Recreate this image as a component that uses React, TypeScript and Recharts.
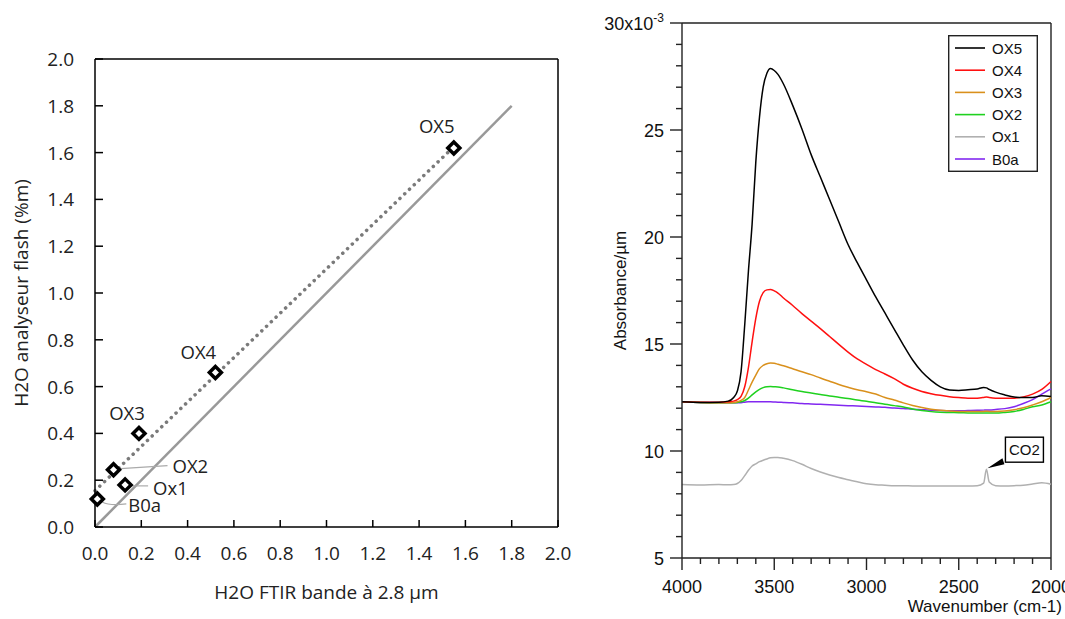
import React from "react";
import {
  ComposedChart,
  Line,
  Scatter,
  XAxis,
  YAxis,
  ReferenceLine,
  ReferenceDot,
  Label,
  Legend,
} from "recharts";

// ---- left panel: flash analyser vs FTIR water content ----
const samples = ["B0a", "Ox1", "OX2", "OX3", "OX4", "OX5"];
const ftirWater = [0.01, 0.13, 0.08, 0.19, 0.52, 1.55];
const flashWater = [0.12, 0.18, 0.245, 0.4, 0.66, 1.62];
const identityX = [0, 1.8];
const fitX = [0.0, 1.55];
const fitY = [0.155, 1.625];
const waterTicks = [0, 0.2, 0.4, 0.6, 0.8, 1.0, 1.2, 1.4, 1.6, 1.8, 2.0];

// ---- right panel: FTIR spectra (x10^-3 absorbance per µm) ----
const wavenumbers = [
  4000, 3900, 3800, 3750, 3720, 3700, 3680, 3660, 3640, 3620, 3600, 3580, 3560,
  3540, 3520, 3500, 3480, 3450, 3400, 3350, 3300, 3250, 3200, 3150, 3100, 3050,
  3000, 2950, 2900, 2850, 2800, 2750, 2700, 2650, 2600, 2550, 2500, 2450, 2400,
  2365, 2350, 2335, 2300, 2250, 2200, 2150, 2100, 2050, 2000,
];
const absOX5 = [
  12.3, 12.27, 12.28, 12.33, 12.5, 12.8, 13.7, 15.9, 18.4, 20.6, 23.5, 25.6, 27.0,
  27.65, 27.87, 27.78, 27.6, 27.15, 26.15, 25.05, 23.85, 22.8, 21.75, 20.7, 19.65, 18.8,
  18.0, 17.2, 16.45, 15.7, 14.95, 14.25, 13.7, 13.3, 13.0, 12.85, 12.83, 12.86, 12.9,
  12.97, 12.95, 12.88, 12.75, 12.62, 12.52, 12.5, 12.5, 12.58, 12.55,
];
const absOX4 = [
  12.3, 12.28, 12.28, 12.3, 12.33, 12.4, 12.55, 13.0, 13.9, 15.1, 16.2, 17.0, 17.4,
  17.53, 17.55, 17.48, 17.38, 17.15, 16.8, 16.42, 16.07, 15.72, 15.35, 14.98, 14.62, 14.3,
  14.05, 13.8, 13.6, 13.38, 13.12, 12.93, 12.78, 12.68, 12.6, 12.54, 12.5, 12.47, 12.47,
  12.5, 12.52, 12.5, 12.47, 12.46, 12.47, 12.53, 12.66, 12.88, 13.25,
];
const absOX3 = [
  12.3, 12.27, 12.26, 12.26, 12.27, 12.3, 12.37, 12.5, 12.85, 13.22, 13.55, 13.85, 14.0,
  14.08, 14.11, 14.1, 14.05, 13.98, 13.84, 13.7, 13.57, 13.41, 13.26, 13.11, 12.98, 12.86,
  12.77, 12.66, 12.5, 12.38, 12.25, 12.13, 12.03, 11.95, 11.9, 11.87, 11.85, 11.84, 11.84,
  11.85, 11.86, 11.85, 11.85, 11.87, 11.93, 12.02, 12.15, 12.3, 12.5,
];
const absOX2 = [
  12.3, 12.27, 12.26, 12.26, 12.26, 12.27, 12.3, 12.36, 12.47, 12.62, 12.76, 12.88, 12.96,
  13.0, 13.01, 13.0, 12.99, 12.95, 12.86, 12.78, 12.71, 12.64, 12.57, 12.51, 12.45, 12.38,
  12.32, 12.25, 12.18, 12.12, 12.06, 11.96, 11.89, 11.84, 11.81, 11.8, 11.79, 11.78, 11.77,
  11.77, 11.78, 11.77, 11.77, 11.8, 11.85, 11.94, 12.07, 12.15, 12.3,
];
const absOx1 = [
  8.43, 8.41, 8.43, 8.42, 8.43, 8.48, 8.62, 8.85, 9.1, 9.3, 9.4, 9.5, 9.57,
  9.63, 9.68, 9.7, 9.7, 9.66, 9.55, 9.38, 9.18, 9.02, 8.88, 8.76, 8.66, 8.56,
  8.47, 8.42, 8.4, 8.38, 8.38, 8.37, 8.37, 8.37, 8.37, 8.37, 8.37, 8.37, 8.38,
  8.5, 9.15, 8.55, 8.38, 8.37, 8.38, 8.4, 8.46, 8.52, 8.45,
];
const absB0a = [
  12.3, 12.27, 12.26, 12.25, 12.25, 12.25, 12.26, 12.28, 12.3, 12.3, 12.3, 12.3, 12.3,
  12.3, 12.3, 12.29, 12.28, 12.27, 12.25, 12.22, 12.2, 12.18, 12.16, 12.14, 12.12, 12.1,
  12.08, 12.06, 12.04, 12.01, 11.99, 11.95, 11.93, 11.91, 11.89, 11.88, 11.88, 11.89, 11.9,
  11.91, 11.92, 11.92, 11.94, 11.98, 12.07, 12.22, 12.4, 12.66, 12.9,
];
const wnTicks = [
  4000, 3900, 3800, 3700, 3600, 3500, 3400, 3300, 3200, 3100, 3000, 2900, 2800,
  2700, 2600, 2500, 2400, 2300, 2200, 2100, 2000,
];
const absTicks = [
  5, 6, 7, 8, 9, 10, 11, 12, 13, 14, 15, 16, 17, 18, 19, 20, 21, 22, 23, 24, 25,
  26, 27, 28, 29, 30,
];
const co2Peak = { wn: 2350, abs: 9.15 };

const leftFont = "'Open Sans', sans-serif";
const rightFont = "'Liberation Sans', Arial, sans-serif";

const spectraSeries = [
  { key: "OX5", color: "#000000" },
  { key: "OX4", color: "#ff1010" },
  { key: "OX3", color: "#d9901c" },
  { key: "OX2", color: "#1fd11f" },
  { key: "Ox1", color: "#b0b0b0" },
  { key: "B0a", color: "#8228f0" },
];

// label placement around each marker (pixels)
const pointLabels: Record<string, { dx: number; dy: number; anchor: string; leader?: string }> = {
  OX5: { dx: -17, dy: -21, anchor: "middle" },
  OX4: { dx: -17, dy: -20, anchor: "middle" },
  OX3: { dx: -12, dy: -20, anchor: "middle" },
  OX2: { dx: 59, dy: -3, anchor: "start", leader: "M7,-1 L54,-4" },
  Ox1: { dx: 28, dy: 4, anchor: "start", leader: "M7,1 L23,1" },
  B0a: { dx: 31, dy: 7, anchor: "start", leader: "M5,3 Q12,7 29,5" },
};

const scatterData = samples.map((name, i) => ({ x: ftirWater[i], y: flashWater[i], name }));
const identityData = identityX.map((v) => ({ x: v, y: v }));
const fitData = fitX.map((v, i) => ({ x: v, y: fitY[i] }));

const spectra = wavenumbers.map((wn, i) => ({
  wn,
  OX5: absOX5[i],
  OX4: absOX4[i],
  OX3: absOX3[i],
  OX2: absOX2[i],
  Ox1: absOx1[i],
  B0a: absB0a[i],
}));

function Diamond(props: any) {
  const { cx, cy, payload } = props;
  const r = 6;
  const lab = pointLabels[payload.name];
  return (
    <g>
      {lab.leader && (
        <path d={lab.leader} transform={`translate(${cx},${cy})`} stroke="#aaa" strokeWidth={1.2} fill="none" />
      )}
      <polygon
        points={`${cx},${cy - r} ${cx + r},${cy} ${cx},${cy + r} ${cx - r},${cy}`}
        fill="#fff"
        stroke="#000"
        strokeWidth={3.5}
        strokeLinejoin="miter"
      />
      <text
        x={cx + lab.dx}
        y={cy + lab.dy + 6.5}
        textAnchor={lab.anchor as any}
        fontSize={18.5}
        fontFamily={leftFont}
        fill="#222"
      >
        {payload.name}
      </text>
    </g>
  );
}

const WaterXTick = ({ x, y, payload }: any) => (
  <g>
    <line x1={x} x2={x} y1={y} y2={y - 7} stroke="#000" strokeWidth={1.5} />
    <text x={x} y={y + 33} textAnchor="middle" fontSize={19} fontFamily={leftFont} fill="#222">
      {Number(payload.value).toFixed(1)}
    </text>
  </g>
);

const WaterYTick = ({ x, y, payload }: any) => (
  <g>
    <line x1={x} x2={x + 8} y1={y} y2={y} stroke="#000" strokeWidth={1.5} />
    <text x={x - 21} y={y + 7} textAnchor="end" fontSize={19} fontFamily={leftFont} fill="#222">
      {Number(payload.value).toFixed(1)}
    </text>
  </g>
);

function WaterPanel() {
  return (
    <ComposedChart width={600} height={619} margin={{ top: 59, right: 42, left: 0, bottom: 0 }}>
      <XAxis
        dataKey="x"
        type="number"
        domain={[0, 2]}
        ticks={waterTicks}
        interval={0}
        height={92}
        tickSize={0}
        tickMargin={0}
        tickLine={false}
        tick={<WaterXTick />}
        axisLine={{ stroke: "#000", strokeWidth: 1.5 }}
      >
        <Label
          content={({ viewBox }: any) => (
            <text
              x={viewBox.x + viewBox.width / 2}
              y={viewBox.y + 72}
              textAnchor="middle"
              fontSize={19}
              fontFamily={leftFont}
              fill="#222"
            >
              H2O FTIR bande à 2.8 µm
            </text>
          )}
        />
      </XAxis>
      <YAxis
        dataKey="y"
        type="number"
        domain={[0, 2]}
        ticks={waterTicks}
        interval={0}
        width={95}
        tickSize={0}
        tickMargin={0}
        tickLine={false}
        tick={<WaterYTick />}
        axisLine={{ stroke: "#000", strokeWidth: 1.5 }}
      >
        <Label
          content={({ viewBox }: any) => {
            const cx = 28;
            const cy = viewBox.y + viewBox.height / 2;
            return (
              <text
                x={cx}
                y={cy}
                transform={`rotate(-90, ${cx}, ${cy})`}
                textAnchor="middle"
                fontSize={19}
                fontFamily={leftFont}
                fill="#222"
              >
                H2O analyseur flash (%m)
              </text>
            );
          }}
        />
      </YAxis>
      <ReferenceLine y={2} stroke="#000" strokeWidth={1.5} />
      <ReferenceLine x={2} stroke="#000" strokeWidth={1.5} />
      <Line
        data={identityData}
        dataKey="y"
        type="linear"
        stroke="#999"
        strokeWidth={2.5}
        dot={false}
        isAnimationActive={false}
      />
      <Line
        data={fitData}
        dataKey="y"
        type="linear"
        stroke="#7a7a7a"
        strokeWidth={3.5}
        strokeDasharray="0.1 6.5"
        strokeLinecap="round"
        dot={false}
        isAnimationActive={false}
      />
      <Scatter data={scatterData} dataKey="y" shape={<Diamond />} isAnimationActive={false} />
    </ComposedChart>
  );
}

const WnTick = ({ x, y, payload }: any) => {
  const major = payload.value % 500 === 0;
  return (
    <g>
      <line x1={x} x2={x} y1={y} y2={y + (major ? 12 : 6)} stroke="#222" strokeWidth={1.4} />
      {major && (
        <text x={x} y={y + 35} textAnchor="middle" fontSize={18} fontFamily={rightFont} fill="#111">
          {payload.value}
        </text>
      )}
    </g>
  );
};

const AbsTick = ({ x, y, payload }: any) => {
  const v = payload.value;
  const major = v % 5 === 0;
  return (
    <g>
      <line x1={x - (major ? 12 : 6)} x2={x} y1={y} y2={y} stroke="#222" strokeWidth={1.4} />
      {major && (
        <text x={x - 18} y={y + 6.5} textAnchor="end" fontSize={18} fontFamily={rightFont} fill="#111">
          {v === 30 ? (
            <>
              30x10
              <tspan dy={-8} fontSize={12}>
                -3
              </tspan>
            </>
          ) : (
            v
          )}
        </text>
      )}
    </g>
  );
};

function SpectraLegend() {
  return (
    <svg width={90} height={137} style={{ display: "block" }}>
      <rect x={0.7} y={0.7} width={88.6} height={135.6} fill="#fff" stroke="#222" strokeWidth={1.4} />
      {spectraSeries.map((s, i) => {
        const y = 13 + i * 22.2;
        return (
          <g key={s.key}>
            <line x1={7} x2={37} y1={y} y2={y} stroke={s.color} strokeWidth={1.6} />
            <text x={44} y={y + 5.5} fontSize={15} fontFamily={rightFont} fill="#111">
              {s.key}
            </text>
          </g>
        );
      })}
    </svg>
  );
}

function Co2Marker(props: any) {
  const { cx, cy } = props;
  const tx = cx + 1;
  const ty = cy - 1;
  return (
    <g>
      <polygon points={`${tx},${ty} ${tx + 15},${ty - 10} ${tx + 17},${ty - 4}`} fill="#000" />
      <rect x={tx + 18} y={ty - 31} width={38} height={25} fill="#fff" stroke="#000" strokeWidth={1.4} />
      <text x={tx + 37} y={ty - 13} textAnchor="middle" fontSize={15} fontFamily={rightFont} fill="#111">
        CO2
      </text>
    </g>
  );
}

function SpectraPanel() {
  const drawOrder = [...spectraSeries].reverse();
  return (
    <ComposedChart width={465} height={619} data={spectra} margin={{ top: 23, right: 14, left: 0, bottom: 0 }}>
      <XAxis
        dataKey="wn"
        type="number"
        domain={[2000, 4000]}
        reversed
        ticks={wnTicks}
        interval={0}
        height={61}
        tickSize={0}
        tickMargin={0}
        tickLine={false}
        tick={<WnTick />}
        axisLine={{ stroke: "#222", strokeWidth: 1.4 }}
      >
        <Label
          content={({ viewBox }: any) => (
            <text
              x={viewBox.x + viewBox.width + 11}
              y={viewBox.y + 54}
              textAnchor="end"
              fontSize={17}
              fontFamily={rightFont}
              fill="#111"
            >
              Wavenumber (cm-1)
            </text>
          )}
        />
      </XAxis>
      <YAxis
        type="number"
        domain={[5, 30]}
        ticks={absTicks}
        interval={0}
        width={82}
        tickSize={0}
        tickMargin={0}
        tickLine={false}
        tick={<AbsTick />}
        axisLine={{ stroke: "#222", strokeWidth: 1.4 }}
      >
        <Label
          content={({ viewBox }: any) => {
            const cx = 26;
            const cy = viewBox.y + viewBox.height / 2;
            return (
              <text
                x={cx}
                y={cy}
                transform={`rotate(-90, ${cx}, ${cy})`}
                textAnchor="middle"
                fontSize={17}
                fontFamily={rightFont}
                fill="#111"
              >
                Absorbance/µm
              </text>
            );
          }}
        />
      </YAxis>
      <ReferenceLine y={30} stroke="#222" strokeWidth={1.4} />
      <ReferenceLine x={2000} stroke="#222" strokeWidth={1.4} />
      {drawOrder.map((s) => (
        <Line
          key={s.key}
          dataKey={s.key}
          type="monotone"
          stroke={s.color}
          strokeWidth={1.5}
          dot={false}
          isAnimationActive={false}
        />
      ))}
      <ReferenceDot x={co2Peak.wn} y={co2Peak.abs} shape={<Co2Marker />} />
      <Legend
        layout="horizontal"
        verticalAlign="middle"
        align="center"
        wrapperStyle={{ top: 35, left: 348, width: 90, height: 137 }}
        content={() => <SpectraLegend />}
      />
    </ComposedChart>
  );
}

export default function App() {
  return (
    <div style={{ position: "absolute", left: 0, top: 0, width: 1065, height: 619, background: "#fff" }}>
      <div style={{ position: "absolute", left: 0, top: 0 }}>
        <WaterPanel />
      </div>
      <div style={{ position: "absolute", left: 600, top: 0 }}>
        <SpectraPanel />
      </div>
    </div>
  );
}
